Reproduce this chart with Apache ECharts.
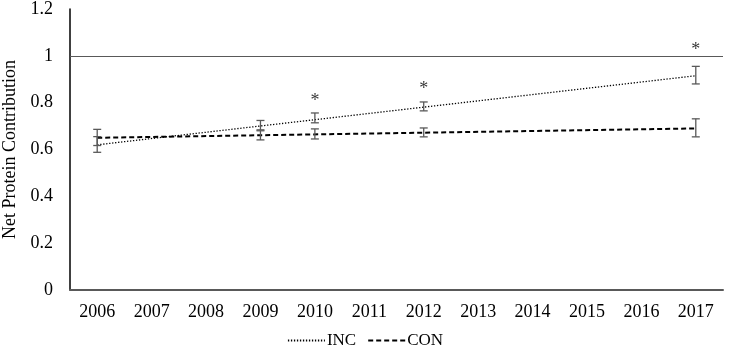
<!DOCTYPE html>
<html><head><meta charset="utf-8">
<script src="https://cdn.jsdelivr.net/npm/echarts@6/dist/echarts.min.js"></script>
<style>html,body{margin:0;padding:0;background:#fff}#c{width:730px;height:354px}</style>
</head><body><div id="c"></div>
<script>
var years = ['2006','2007','2008','2009','2010','2011','2012','2013','2014','2015','2016','2017'];
var incTrend = [['2006', 0.62], ['2017', 0.915]];
var conTrend = [['2006', 0.65], ['2017', 0.69]];
// error bars: [year, low, high]
var incErr = [['2006', 0.588, 0.655], ['2009', 0.684, 0.724], ['2010', 0.714, 0.756], ['2012', 0.765, 0.803], ['2017', 0.880, 0.955]];
var conErr = [['2006', 0.617, 0.686], ['2009', 0.641, 0.680], ['2010', 0.645, 0.688], ['2012', 0.654, 0.692], ['2017', 0.654, 0.731]];
var stars = [['2010', 0.825], ['2012', 0.876], ['2017', 1.04]];
var refLine = 1;

var font = 'Liberation Serif';
function errItem(params, api) {
  var x = api.value(0), lo = api.value(1), hi = api.value(2);
  var p1 = api.coord([x, lo]), p2 = api.coord([x, hi]);
  var w = 4;
  var st = {stroke: '#595959', lineWidth: 1.3};
  return {type: 'group', children: [
    {type: 'line', shape: {x1: p1[0], y1: p1[1], x2: p2[0], y2: p2[1]}, style: st},
    {type: 'line', shape: {x1: p1[0]-w, y1: p1[1], x2: p1[0]+w, y2: p1[1]}, style: st},
    {type: 'line', shape: {x1: p2[0]-w, y1: p2[1], x2: p2[0]+w, y2: p2[1]}, style: st}
  ]};
}
var chart = echarts.init(document.getElementById('c'));
chart.setOption({
  animation: false,
  textStyle: {fontFamily: font},
  grid: {left: 70, right: 7, top: 9, bottom: 64, containLabel: false, outerBoundsMode: 'none'},
  legend: {
    bottom: 0, left: 'center', itemWidth: 37, itemHeight: 10, itemGap: 11,
    itemStyle: {opacity: 0},
    textStyle: {fontFamily: font, fontSize: 17, color: '#000', padding: [0, 0, 0, -3]},
    data: ['INC', 'CON']
  },
  xAxis: {
    type: 'category', data: years, boundaryGap: true,
    axisLine: {lineStyle: {color: '#595959', width: 2}},
    axisTick: {show: false},
    axisLabel: {fontFamily: font, fontSize: 18, color: '#000', margin: 13}
  },
  yAxis: {
    type: 'value', min: 0, max: 1.2, interval: 0.2,
    name: 'Net Protein Contribution', nameLocation: 'middle', nameGap: 51,
    nameTextStyle: {fontFamily: font, fontSize: 18, color: '#000'},
    axisLine: {show: true, lineStyle: {color: '#000', width: 1.5}},
    axisTick: {show: false},
    splitLine: {show: false},
    axisLabel: {fontFamily: font, fontSize: 18, color: '#000', margin: 17}
  },
  series: [
    {name: 'INC', type: 'line', data: incTrend, symbol: 'none', connectNulls: true,
     lineStyle: {color: '#000', width: 1.3, type: [1.3, 1.7]}, itemStyle: {color: '#000'},
     markLine: {silent: true, symbol: 'none', label: {show: false},
       lineStyle: {color: '#595959', width: 1.2, type: 'solid'}, data: [{yAxis: refLine}]}},
    {name: 'CON', type: 'line', data: conTrend, symbol: 'none',
     lineStyle: {color: '#000', width: 2, type: [5, 3]}, itemStyle: {color: '#000'}},
    {type: 'custom', renderItem: errItem, data: incErr, z: 5},
    {type: 'custom', renderItem: errItem, data: conErr, z: 5},
    {type: 'scatter', data: stars, symbolSize: 0, silent: true,
     label: {show: true, formatter: '*', position: 'inside', offset: [0, 4], fontFamily: font, fontSize: 18, color: '#000'}}
  ]
});
</script></body></html>
